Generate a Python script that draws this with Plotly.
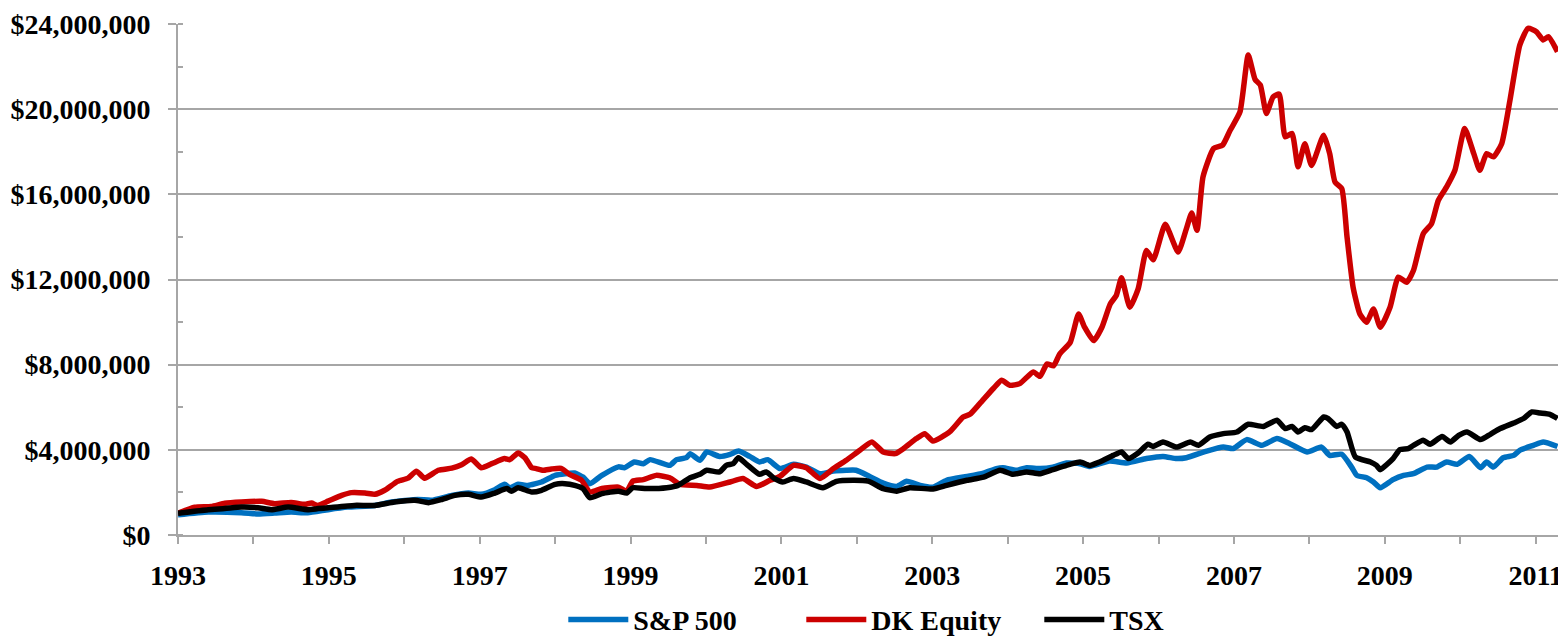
import plotly.graph_objects as go

# ---- data (values in $ millions, x in decimal years) ----
sp500_years = [1993.00, 1993.40, 1993.84, 1994.06, 1994.28, 1994.50, 1994.72, 1994.99, 1995.25, 1995.61,
               1995.83, 1996.18, 1996.36, 1996.63, 1996.85, 1997.02, 1997.20, 1997.33, 1997.40, 1997.51,
               1997.64, 1997.82, 1998.00, 1998.13, 1998.26, 1998.37, 1998.46, 1998.62, 1998.84, 1998.92,
               1999.05, 1999.17, 1999.26, 1999.52, 1999.61, 1999.74, 1999.79, 1999.92, 2000.01, 2000.18,
               2000.32, 2000.43, 2000.58, 2000.71, 2000.82, 2000.98, 2001.16, 2001.33, 2001.51, 2001.69,
               2001.86, 2001.99, 2002.17, 2002.35, 2002.53, 2002.66, 2002.84, 2003.01, 2003.19, 2003.46,
               2003.68, 2003.85, 2003.94, 2004.12, 2004.25, 2004.43, 2004.60, 2004.78, 2004.96, 2005.09,
               2005.35, 2005.58, 2005.84, 2006.06, 2006.24, 2006.37, 2006.64, 2006.86, 2006.99, 2007.17,
               2007.37, 2007.57, 2007.74, 2007.97, 2008.16, 2008.27, 2008.43, 2008.56, 2008.63, 2008.76,
               2008.85, 2008.94, 2009.11, 2009.25, 2009.38, 2009.56, 2009.69, 2009.82, 2009.96, 2010.12,
               2010.27, 2010.35, 2010.44, 2010.57, 2010.71, 2010.79, 2010.97, 2011.10, 2011.29]
sp500_values = [0.95, 1.08, 1.05, 0.99, 1.03, 1.08, 1.04, 1.19, 1.31, 1.39,
                1.55, 1.67, 1.63, 1.86, 1.97, 1.91, 2.13, 2.38, 2.22, 2.38,
                2.33, 2.49, 2.80, 2.88, 2.91, 2.72, 2.41, 2.80, 3.20, 3.16,
                3.43, 3.35, 3.54, 3.27, 3.54, 3.63, 3.82, 3.51, 3.90, 3.69,
                3.79, 3.94, 3.69, 3.43, 3.54, 3.12, 3.32, 3.19, 2.88, 3.00,
                3.04, 3.04, 2.75, 2.44, 2.28, 2.52, 2.33, 2.25, 2.57, 2.75,
                2.91, 3.12, 3.16, 3.04, 3.16, 3.12, 3.19, 3.38, 3.35, 3.22,
                3.47, 3.38, 3.59, 3.69, 3.59, 3.63, 3.94, 4.13, 4.06, 4.48,
                4.21, 4.53, 4.29, 3.90, 4.13, 3.74, 3.79, 3.19, 2.80, 2.69,
                2.49, 2.22, 2.60, 2.80, 2.88, 3.19, 3.19, 3.43, 3.32, 3.69,
                3.16, 3.43, 3.19, 3.63, 3.74, 3.98, 4.21, 4.37, 4.16]

dk_years = [1993.00, 1993.22, 1993.44, 1993.62, 1993.84, 1994.11, 1994.28, 1994.50, 1994.68, 1994.77,
            1994.85, 1994.99, 1995.17, 1995.30, 1995.48, 1995.61, 1995.74, 1995.91, 1996.05, 1996.16,
            1996.27, 1996.45, 1996.63, 1996.76, 1996.89, 1997.02, 1997.16, 1997.33, 1997.40, 1997.51,
            1997.60, 1997.69, 1997.75, 1997.84, 1997.95, 1998.08, 1998.19, 1998.35, 1998.46, 1998.62,
            1998.84, 1998.95, 1999.03, 1999.17, 1999.34, 1999.52, 1999.65, 1999.88, 2000.05, 2000.32,
            2000.49, 2000.67, 2000.85, 2000.98, 2001.16, 2001.33, 2001.51, 2001.69, 2001.86, 2002.04,
            2002.20, 2002.35, 2002.51, 2002.62, 2002.79, 2002.90, 2003.01, 2003.23, 2003.41, 2003.50,
            2003.63, 2003.81, 2003.92, 2004.03, 2004.16, 2004.34, 2004.43, 2004.52, 2004.61, 2004.69,
            2004.83, 2004.94, 2005.02, 2005.14, 2005.25, 2005.36, 2005.44, 2005.51, 2005.62, 2005.73,
            2005.84, 2005.93, 2006.09, 2006.26, 2006.37, 2006.44, 2006.51, 2006.59, 2006.73, 2006.85,
            2006.95, 2007.08, 2007.19, 2007.28, 2007.35, 2007.43, 2007.52, 2007.60, 2007.68, 2007.77,
            2007.85, 2007.94, 2008.03, 2008.19, 2008.27, 2008.34, 2008.43, 2008.50, 2008.58, 2008.67,
            2008.76, 2008.85, 2008.94, 2009.07, 2009.18, 2009.29, 2009.38, 2009.51, 2009.62, 2009.71,
            2009.82, 2009.93, 2010.06, 2010.18, 2010.26, 2010.35, 2010.44, 2010.55, 2010.66, 2010.79,
            2010.90, 2011.01, 2011.10, 2011.17, 2011.29]
dk_values = [1.02, 1.30, 1.34, 1.49, 1.55, 1.58, 1.47, 1.53, 1.44, 1.50,
             1.39, 1.59, 1.86, 1.99, 1.97, 1.91, 2.10, 2.52, 2.67, 3.00,
             2.67, 3.04, 3.14, 3.30, 3.57, 3.16, 3.35, 3.59, 3.54, 3.85,
             3.63, 3.16, 3.12, 3.04, 3.10, 3.13, 2.85, 2.57, 2.02, 2.18,
             2.25, 2.06, 2.53, 2.60, 2.80, 2.69, 2.38, 2.33, 2.25, 2.49,
             2.65, 2.28, 2.57, 2.75, 3.27, 3.16, 2.65, 3.12, 3.51, 3.98,
             4.37, 3.90, 3.82, 4.06, 4.53, 4.76, 4.41, 4.84, 5.54, 5.67,
             6.17, 6.88, 7.27, 7.03, 7.11, 7.66, 7.45, 8.03, 7.95, 8.50,
             9.05, 10.38, 9.76, 9.13, 9.76, 10.85, 11.25, 12.08, 10.70, 11.56,
             13.36, 12.93, 14.59, 13.29, 14.39, 15.12, 14.31, 16.82, 18.15, 18.31,
             19.01, 19.87, 22.54, 21.40, 21.13, 19.80, 20.58, 20.71, 18.70, 18.86,
             17.29, 18.38, 17.36, 18.78, 17.91, 16.58, 16.27, 13.99, 11.64, 10.38,
             9.99, 10.62, 9.76, 10.70, 12.11, 11.87, 12.42, 14.15, 14.62, 15.72,
             16.35, 17.13, 19.09, 17.91, 17.13, 17.91, 17.76, 18.38, 20.42, 23.01,
             23.80, 23.64, 23.25, 23.40, 22.70]

tsx_years = [1993.00, 1993.40, 1993.62, 1993.84, 1994.06, 1994.24, 1994.46, 1994.72, 1994.86, 1994.99,
             1995.34, 1995.61, 1995.87, 1996.14, 1996.32, 1996.49, 1996.67, 1996.85, 1997.02, 1997.20,
             1997.36, 1997.42, 1997.51, 1997.69, 1997.82, 1998.00, 1998.13, 1998.26, 1998.37, 1998.46,
             1998.62, 1998.84, 1998.95, 1999.03, 1999.21, 1999.48, 1999.63, 1999.79, 1999.92, 2000.01,
             2000.18, 2000.27, 2000.36, 2000.43, 2000.54, 2000.71, 2000.80, 2000.91, 2001.02, 2001.16,
             2001.33, 2001.55, 2001.73, 2001.95, 2002.15, 2002.35, 2002.53, 2002.70, 2003.01, 2003.19,
             2003.46, 2003.68, 2003.90, 2004.07, 2004.25, 2004.43, 2004.60, 2004.78, 2004.96, 2005.09,
             2005.22, 2005.40, 2005.51, 2005.60, 2005.73, 2005.86, 2005.93, 2006.06, 2006.24, 2006.42,
             2006.53, 2006.68, 2006.86, 2007.04, 2007.19, 2007.39, 2007.57, 2007.68, 2007.77, 2007.85,
             2007.94, 2008.03, 2008.19, 2008.25, 2008.36, 2008.43, 2008.50, 2008.61, 2008.81, 2008.89,
             2008.94, 2009.11, 2009.20, 2009.31, 2009.38, 2009.51, 2009.60, 2009.76, 2009.87, 2009.98,
             2010.09, 2010.27, 2010.40, 2010.53, 2010.71, 2010.84, 2010.95, 2011.06, 2011.19, 2011.29]
tsx_values = [1.02, 1.19, 1.24, 1.31, 1.28, 1.19, 1.31, 1.19, 1.24, 1.28,
              1.39, 1.39, 1.55, 1.63, 1.52, 1.66, 1.86, 1.91, 1.78, 1.97,
              2.18, 2.06, 2.22, 2.02, 2.10, 2.38, 2.41, 2.33, 2.18, 1.75,
              1.94, 2.06, 1.97, 2.22, 2.18, 2.22, 2.33, 2.69, 2.85, 3.04,
              2.96, 3.27, 3.35, 3.63, 3.32, 2.85, 2.96, 2.65, 2.49, 2.65,
              2.49, 2.22, 2.52, 2.57, 2.53, 2.18, 2.06, 2.22, 2.16, 2.33,
              2.57, 2.72, 3.04, 2.85, 2.96, 2.88, 3.07, 3.27, 3.43, 3.27,
              3.43, 3.74, 3.90, 3.59, 3.85, 4.26, 4.16, 4.37, 4.13, 4.37,
              4.21, 4.60, 4.76, 4.84, 5.20, 5.10, 5.39, 5.00, 5.10, 4.84,
              5.04, 4.95, 5.54, 5.47, 5.10, 5.20, 4.84, 3.66, 3.43, 3.27,
              3.07, 3.59, 4.01, 4.06, 4.21, 4.45, 4.26, 4.63, 4.37, 4.68,
              4.84, 4.48, 4.73, 5.00, 5.26, 5.47, 5.78, 5.73, 5.67, 5.47]

series_names = ["S&P 500", "DK Equity", "TSX"]
series_colors = ["#0070C0", "#CC0000", "#000000"]

y_tick_values = [0, 4e6, 8e6, 12e6, 16e6, 20e6, 24e6]
x_tick_values = [1993, 1995, 1997, 1999, 2001, 2003, 2005, 2007, 2009, 2011]

FONT = "Liberation Serif"
GRID = "#A6A6A6"

fig = go.Figure()
for name, color, xs, vs in zip(series_names, series_colors,
                               [sp500_years, dk_years, tsx_years],
                               [sp500_values, dk_values, tsx_values]):
    fig.add_trace(go.Scatter(
        x=xs, y=[v * 1e6 for v in vs], name=name, mode="lines",
        line=dict(color=color, width=5.5, shape="spline", smoothing=0.5),
    ))

# the page body adds an 8px offset, so the figure is 8px smaller and margins 8px tighter
fig.update_layout(
    width=1558, height=631,
    margin=dict(l=170, r=7, t=16, b=104, autoexpand=False),
    paper_bgcolor="white", plot_bgcolor="white",
    font=dict(family=FONT, size=28, color="black", weight="bold"),
    showlegend=True,
    legend=dict(orientation="h", x=0.279, xanchor="left", y=-0.166, yanchor="middle",
                font=dict(family=FONT, size=28, color="black", weight="bold"),
                entrywidth=163, entrywidthmode="pixels", itemwidth=60,
                tracegroupgap=0, bgcolor="rgba(0,0,0,0)"),
)

fig.update_xaxes(
    range=[1993, 2011.31], tickmode="array", tickvals=x_tick_values,
    ticktext=[str(v) for v in x_tick_values],
    showgrid=False, zeroline=False, automargin=False,
    showline=True, linecolor=GRID, linewidth=2,
    ticks="outside", ticklen=7, tickwidth=2, tickcolor=GRID,
    minor=dict(dtick=1, tick0=1993, ticks="outside", ticklen=7, tickwidth=2, tickcolor=GRID),
    ticklabelstandoff=7,
    tickfont=dict(family=FONT, size=28, color="black", weight="bold"),
)

fig.update_yaxes(
    range=[0, 24e6], tickmode="array", tickvals=y_tick_values,
    tickformat="$,.0f",
    showgrid=True, gridcolor=GRID, gridwidth=2,
    zeroline=False, automargin=False,
    showline=True, linecolor=GRID, linewidth=2,
    ticks="outside", ticklen=8, tickwidth=2, tickcolor=GRID,
    minor=dict(dtick=2e6, tick0=0, ticks="inside", ticklen=5, tickwidth=2, tickcolor=GRID, showgrid=False),
    ticklabelstandoff=12,
    tickfont=dict(family=FONT, size=28, color="black", weight="bold"),
)

fig.write_html("out.html")
